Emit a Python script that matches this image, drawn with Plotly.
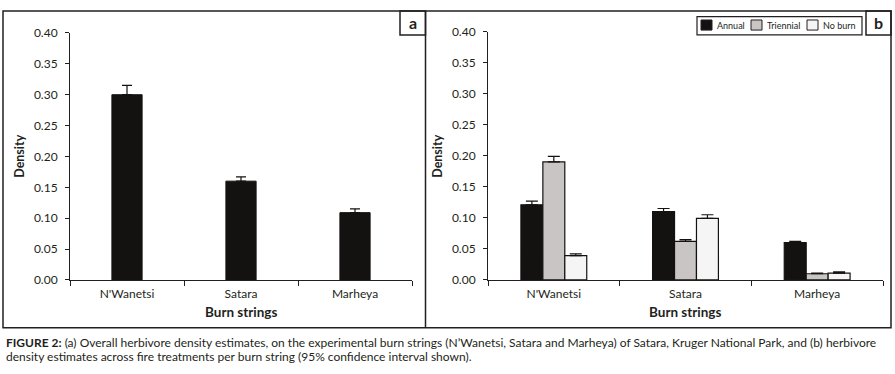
import plotly.graph_objects as go

W, H = 895, 374

# ---- data ----
categories = ["N'Wanetsi", "Satara", "Marheya"]
overall_density = [0.300, 0.160, 0.109]
overall_ci_plus = [0.015, 0.007, 0.006]

series_names = ["Annual", "Triennial", "No burn"]
annual_density = [0.121, 0.110, 0.060]
annual_ci_plus = [0.006, 0.005, 0.002]
triennial_density = [0.190, 0.062, 0.010]
triennial_ci_plus = [0.009, 0.003, 0.001]
noburn_density = [0.039, 0.099, 0.011]
noburn_ci_plus = [0.003, 0.006, 0.002]

y_ticks = [0.00, 0.05, 0.10, 0.15, 0.20, 0.25, 0.30, 0.35, 0.40]
colors = ["#141210", "#c9c5c4", "#f5f5f5"]

FONT = "Lato"
TXT = "#231f20"


def px(x):
    return x / W


def py(y):
    return 1 - y / H


fig = go.Figure()

# panel a
fig.add_trace(go.Bar(
    x=categories, y=overall_density, xaxis="x", yaxis="y",
    marker=dict(color=colors[0], line=dict(color="#141210", width=1)),
    width=0.265, showlegend=False,
    error_y=dict(type="data", symmetric=False, array=overall_ci_plus,
                 arrayminus=[0, 0, 0], color="#141210", thickness=1.2, width=5),
))

# panel b
b_vals = [annual_density, triennial_density, noburn_density]
b_err = [annual_ci_plus, triennial_ci_plus, noburn_ci_plus]
for name, vals, err, col in zip(series_names, b_vals, b_err, colors):
    fig.add_trace(go.Bar(
        x=categories, y=vals, name=name, xaxis="x2", yaxis="y2",
        marker=dict(color=col, line=dict(color="#141210", width=1.2)),
        showlegend=False,
        error_y=dict(type="data", symmetric=False, array=err,
                     arrayminus=[0] * len(err), color="#141210", thickness=1.2, width=6),
    ))

axis_common = dict(showline=True, linecolor="#231f20", linewidth=1, showgrid=False,
                   zeroline=False, ticks="outside", tickcolor="#231f20",
                   tickfont=dict(family=FONT, size=12, color=TXT))

fig.update_layout(
    width=W, height=H, autosize=False,
    margin=dict(l=0, r=0, t=0, b=0),
    paper_bgcolor="white", plot_bgcolor="white",
    barmode="group", bargap=0.5, bargroupgap=0,
    xaxis=dict(domain=[px(70), px(412)], anchor="y", type="category",
               range=[-0.5, 2.5], tickson="boundaries", ticklen=5,
               ticklabelstandoff=3, **axis_common),
    yaxis=dict(domain=[py(283.3), py(26)], anchor="x", range=[0, 0.4],
               tickvals=y_ticks, tickformat=".2f", ticklen=4,
               ticklabelstandoff=5, **axis_common),
    xaxis2=dict(domain=[px(488), px(883)], anchor="y2", type="category",
                range=[-0.5, 2.5], tickson="boundaries", ticklen=5,
                ticklabelstandoff=3, **axis_common),
    yaxis2=dict(domain=[py(283.3), py(24.5)], anchor="x2", range=[0, 0.4],
                tickvals=y_ticks, tickformat=".2f", ticklen=4,
                ticklabelstandoff=5, **axis_common),
)

shapes = []
line = dict(color="#231f20", width=1.5)
# outer frame and divider
shapes.append(dict(type="rect", xref="paper", yref="paper", x0=px(3), x1=px(891),
                   y0=py(333), y1=py(3), line=line))
shapes.append(dict(type="line", xref="paper", yref="paper", x0=px(425.5), x1=px(425.5),
                   y0=py(333), y1=py(3), line=line))
# panel label boxes
shapes.append(dict(type="rect", xref="paper", yref="paper", x0=px(400), x1=px(425.5),
                   y0=py(28), y1=py(3), line=line))
shapes.append(dict(type="rect", xref="paper", yref="paper", x0=px(866), x1=px(891),
                   y0=py(28), y1=py(3), line=line))
# legend box
shapes.append(dict(type="rect", xref="paper", yref="paper", x0=px(697), x1=px(862),
                   y0=py(28), y1=py(9), line=dict(color="#231f20", width=1.2)))

annotations = []
sw_x = [701, 751, 807]
for name, col, x0 in zip(series_names, colors, sw_x):
    shapes.append(dict(type="rect", xref="paper", yref="paper", x0=px(x0), x1=px(x0 + 11),
                       y0=py(23), y1=py(12.5), fillcolor=col,
                       line=dict(color="#231f20", width=1)))
    annotations.append(dict(xref="paper", yref="paper", x=px(x0 + 14), y=py(18),
                            text=name, showarrow=False, xanchor="left", yanchor="middle",
                            font=dict(family=FONT, size=9, color=TXT)))

annotations += [
    dict(xref="paper", yref="paper", x=px(413), y=py(15), text="<b>a</b>", showarrow=False,
         xanchor="center", yanchor="middle", font=dict(family=FONT, size=16, color=TXT)),
    dict(xref="paper", yref="paper", x=px(878.5), y=py(15), text="<b>b</b>", showarrow=False,
         xanchor="center", yanchor="middle", font=dict(family=FONT, size=16, color=TXT)),
    dict(xref="paper", yref="paper", x=px(20), y=py(155), text="<b>Density</b>", showarrow=False,
         textangle=-90, xanchor="center", yanchor="middle",
         font=dict(family=FONT, size=12.5, color=TXT)),
    dict(xref="paper", yref="paper", x=px(438), y=py(155), text="<b>Density</b>", showarrow=False,
         textangle=-90, xanchor="center", yanchor="middle",
         font=dict(family=FONT, size=12.5, color=TXT)),
    dict(xref="paper", yref="paper", x=px(241), y=py(317), text="<b>Burn strings</b>",
         showarrow=False, xanchor="center", yanchor="middle",
         font=dict(family=FONT, size=13.5, color=TXT)),
    dict(xref="paper", yref="paper", x=px(685), y=py(317), text="<b>Burn strings</b>",
         showarrow=False, xanchor="center", yanchor="middle",
         font=dict(family=FONT, size=13.5, color=TXT)),
    dict(xref="paper", yref="paper", x=px(4), y=py(348),
         text="<b>FIGURE 2:</b> (a) Overall herbivore density estimates, on the experimental burn strings "
              "(N\u2019Wanetsi, Satara and Marheya) of Satara, Kruger National Park, and (b) herbivore",
         showarrow=False, xanchor="left", yanchor="middle",
         font=dict(family=FONT, size=12, color=TXT)),
    dict(xref="paper", yref="paper", x=px(4), y=py(363),
         text="density estimates across fire treatments per burn string (95% confidence interval shown).",
         showarrow=False, xanchor="left", yanchor="middle",
         font=dict(family=FONT, size=12, color=TXT)),
]

fig.update_layout(shapes=shapes, annotations=annotations)
fig.write_html("out.html", config={"displayModeBar": False},
               post_script="document.body.style.margin='0';document.body.style.overflow='hidden';")
